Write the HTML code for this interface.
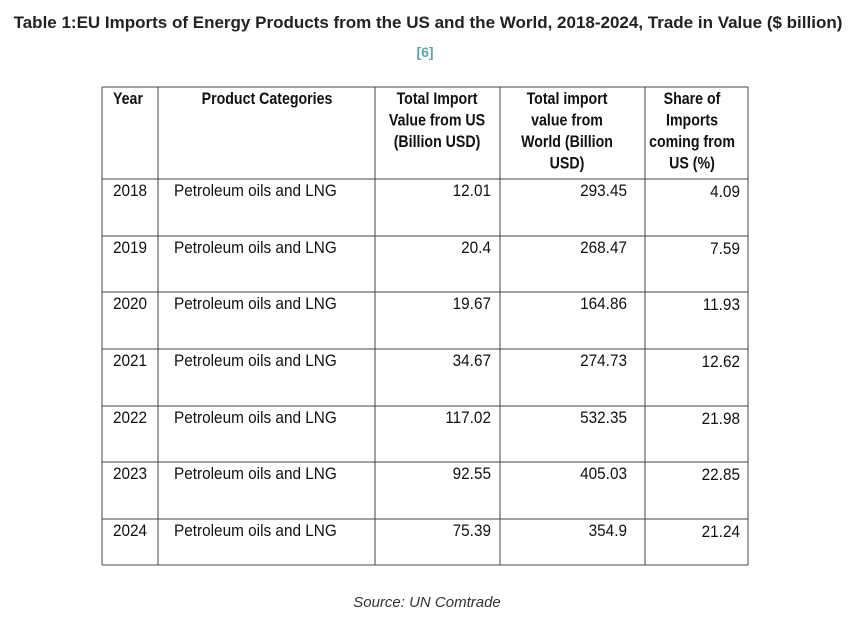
<!DOCTYPE html>
<html><head><meta charset="utf-8"><style>
body{margin:0;background:#fff;width:850px;height:627px;overflow:hidden}
svg text{font-family:"Liberation Sans",sans-serif}
</style></head><body>
<svg width="850" height="627">
<text x="428" y="28" text-anchor="middle" font-size="17" font-weight="bold" fill="#222">Table 1:EU Imports of Energy Products from the US and the World, 2018-2024, Trade in Value ($ billion)</text>
<text x="425" y="57" text-anchor="middle" font-size="14" font-weight="bold" fill="#5aa6a6">[6]</text>
<g id="grid" stroke="#444" stroke-width="1"></g>
<g id="cells" font-size="16.5" fill="#111"></g>
<text x="427" y="607" text-anchor="middle" font-size="15" font-style="italic" fill="#333">Source: UN Comtrade</text>
</svg>
<script>
const years=["2018","2019","2020","2021","2022","2023","2024"];
const category="Petroleum oils and LNG";
const fromUS=["12.01","20.4","19.67","34.67","117.02","92.55","75.39"];
const fromWorld=["293.45","268.47","164.86","274.73","532.35","405.03","354.9"];
const shareUS=["4.09","7.59","11.93","12.62","21.98","22.85","21.24"];
const NS="http://www.w3.org/2000/svg";
const cols=[102,158,375,500,645,748];
const rows=[87,179,236,292,349,406,462,519,565];
const grid=document.getElementById('grid'),cells=document.getElementById('cells');
function line(x1,y1,x2,y2){const l=document.createElementNS(NS,'line');l.setAttribute('x1',x1);l.setAttribute('y1',y1);l.setAttribute('x2',x2);l.setAttribute('y2',y2);


grid.appendChild(l);}
cols.forEach(x=>line(x,rows[0],x,rows[rows.length-1]));
rows.forEach(y=>line(cols[0],y,cols[cols.length-1],y));
function txt(s,x,y,anchor,bold,name,sx){const t=document.createElementNS(NS,'text');t.setAttribute('x',0);t.setAttribute('y',0);t.setAttribute('transform','translate('+x+','+y+') scale('+sx+',1)');t.setAttribute('text-anchor',anchor);if(bold)t.setAttribute('font-weight','bold');t.textContent=s;


cells.appendChild(t);}
const heads=[[["Year"],130,"start",113],[["Product Categories"],267,"middle"],[["Total Import","Value from US","(Billion USD)"],437,"middle"],[["Total import","value from","World (Billion","USD)"],567,"middle"],[["Share of","Imports","coming from","US  (%)"],692,"middle"]];
heads.forEach(h=>{h[0].forEach((s,i)=>txt(s,h[3]||h[1],104+i*21.5,h[2],true,'header-cell',0.86));});
years.forEach((y,i)=>{const b=rows[i+1]+17;
txt(y,130,b,"middle",false,'year-cell',0.93);
txt(category,174,b,"start",false,'category-cell',0.93);
txt(fromUS[i],491,b,"end",false,'us-value-cell',0.93);
txt(fromWorld[i],627,b,"end",false,'world-value-cell',0.93);
txt(shareUS[i],740,b+1,"end",false,'share-cell',0.93);});
</script>
</body></html>
